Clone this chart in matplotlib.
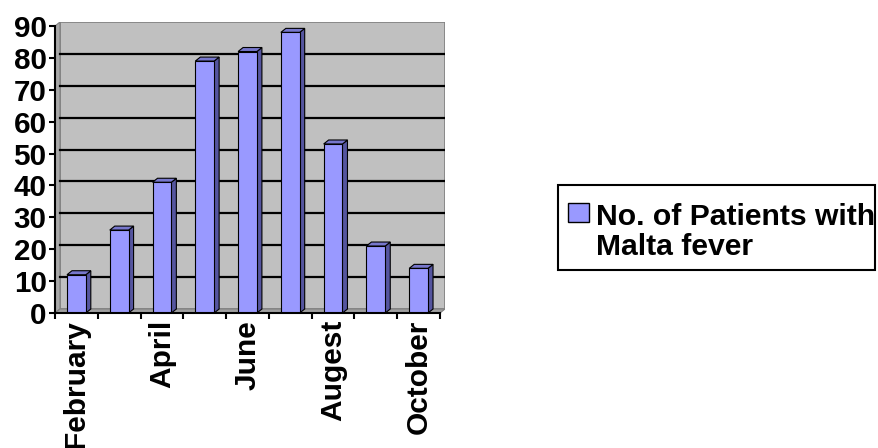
import matplotlib.pyplot as plt
from matplotlib.patches import Polygon, Rectangle

# data
months = ['February', 'March', 'April', 'May', 'June', 'July',
          'Augest', 'September', 'October']
patients = [12, 26, 41, 79, 82, 88, 53, 21, 14]
series_lines = ['No. of Patients with', 'Malta fever']
yticks = [0, 10, 20, 30, 40, 50, 60, 70, 80, 90]

FONT = 'Liberation Sans'
front = '#9999FF'
side = '#55559F'
top = '#7777CC'

W, H = 879, 448
fig = plt.figure(figsize=(W / 100, H / 100), dpi=100)

# axes in pixels: front plane 0..9 -> 55..440 px, 0..90 -> 313..26 px
px_x = (440 - 55) / 9
px_y = (313 - 26) / 90
ddx = 5 / px_x      # depth offset in data units
ddy = 4 / px_y
n = len(months)
ax_w = n * px_x + 5
ax_h = 90 * px_y + 4
ax = fig.add_axes([55 / W, (H - 313) / H, ax_w / W, ax_h / H])
ax.set_xlim(0, n + ddx)
ax.set_ylim(0, 90 + ddy)
ax.patch.set_alpha(0)

# walls and floor
ax.add_patch(Rectangle((ddx, ddy), n, 90, facecolor='#C0C0C0',
                       edgecolor='#808080', lw=1.2, zorder=0))
ax.add_patch(Polygon([(0, 0), (ddx, ddy), (ddx, 90 + ddy), (0, 90)],
                     facecolor='#A8A8A8', edgecolor='#808080', lw=0.8, zorder=0))
ax.add_patch(Polygon([(0, 0), (n, 0), (n + ddx, ddy), (ddx, ddy)],
                     facecolor='#A0A0A0', edgecolor='#808080', lw=0.8, zorder=0))
for k in yticks[1:-1]:
    ax.plot([ddx, n + ddx], [k + ddy, k + ddy], color='black', lw=1.6, zorder=1)

# 3d-looking bars
bw = 0.44
for i, v in enumerate(patients):
    x0 = i + 0.5 - bw / 2
    ax.add_patch(Polygon([(x0 + bw, 0), (x0 + bw + ddx, ddy),
                          (x0 + bw + ddx, v + ddy), (x0 + bw, v)],
                         facecolor=side, edgecolor='black', lw=0.8, zorder=3))
    ax.add_patch(Polygon([(x0, v), (x0 + ddx, v + ddy),
                          (x0 + bw + ddx, v + ddy), (x0 + bw, v)],
                         facecolor=top, edgecolor='black', lw=0.8, zorder=3))
    ax.add_patch(Rectangle((x0, 0), bw, v, facecolor=front,
                           edgecolor='black', lw=0.8, zorder=4))

for s in ['top', 'right']:
    ax.spines[s].set_visible(False)
ax.spines['left'].set_bounds(0, 90)
ax.spines['bottom'].set_bounds(0, n)
for s in ['left', 'bottom']:
    ax.spines[s].set_linewidth(1.5)
    ax.spines[s].set_zorder(5)

ax.set_yticks(yticks)
ax.set_yticklabels([str(t) for t in yticks], fontfamily=FONT,
                   fontweight='bold', fontsize=21.3)
ax.tick_params(axis='y', length=4, width=1.5, pad=2)

ax.set_xticks(range(n + 1))
ax.set_xticklabels([])
ax.tick_params(axis='x', which='major', length=4, width=1.5)
ax.set_xticks([i + 0.5 for i in range(n)], minor=True)
ax.set_xticklabels([m if i % 2 == 0 else '' for i, m in enumerate(months)],
                   minor=True, rotation=90, fontfamily=FONT,
                   fontweight='bold', fontsize=21.5, va='top')
ax.tick_params(axis='x', which='minor', length=0, pad=5)

# legend, drawn by hand (pixel positions from the reference, y from top)
def fx(x):
    return x / W


def fy(y):
    return 1 - y / H


fig.patches.append(Rectangle((fx(558), fy(270)), (875 - 558) / W, 85 / H,
                             transform=fig.transFigure, facecolor='white',
                             edgecolor='black', lw=1.5))
fig.patches.append(Rectangle((fx(568), fy(222)), 21 / W, 19 / H,
                             transform=fig.transFigure, facecolor=front,
                             edgecolor='black', lw=1))
for j, line in enumerate(series_lines):
    fig.text(fx(596), fy(225 + 30 * j), line, fontfamily=FONT,
             fontweight='bold', fontsize=21.7, va='baseline', ha='left')

fig.savefig('out.png', dpi=100)
